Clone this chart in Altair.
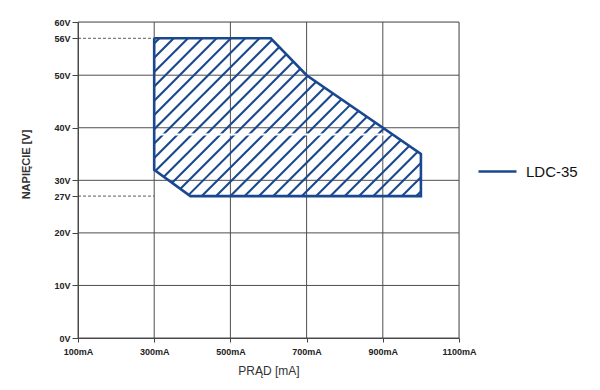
import altair as alt
import pandas as pd

# ---- data ----
series_name = "LDC-35"
poly_ma = [300, 606, 700, 1000, 1000, 395, 300, 300]
poly_v = [56, 56, 50, 35, 27, 27, 32, 56]
x_ticks = [100, 300, 500, 700, 900, 1100]
y_ticks = [0, 10, 20, 27, 30, 40, 50, 56, 60]
y_grid = [0, 10, 20, 30, 40, 50, 60]
ref_levels = [27, 56]
break_level = 38.7
break_end = 920

BLUE = "#1a4890"
GRID = "#4f4f4f"

W, H = 381, 316
X0, X1 = 100, 1100
# piecewise y scale as drawn in the reference (56V label sits above its linear place)
y_dom = [0, 50, 56, 60]
y_rng = [316, 53.2, 16.3, 0]

sx = W / (X1 - X0)

def interp(v, xs_, ys_):
    for i in range(len(xs_) - 1):
        a, b = xs_[i], xs_[i + 1]
        if (a <= v <= b) or (b <= v <= a) or i == len(xs_) - 2:
            return ys_[i] + (v - a) * (ys_[i + 1] - ys_[i]) / (b - a)
    return ys_[-1]

up_rng = [H - r for r in y_rng]  # pixel height above the bottom

def v2p(v):
    return interp(v, y_dom, up_rng)

def p2v(p):
    return interp(p, up_rng, y_dom)

# ---- hatch fill (45° lines on screen, clipped to the polygon, even-odd) ----
pts = [((m - X0) * sx, v2p(v)) for m, v in zip(poly_ma[:-1], poly_v[:-1])]
n = len(pts)

step = 14.3
phase = 204.0
rows = []
k = phase - step * 40
while k < phase + step * 40:
    xs_hit = []
    for i in range(n):
        a, b = pts[i], pts[(i + 1) % n]
        fa = a[1] - a[0] - k
        fb = b[1] - b[0] - k
        if (fa > 0) != (fb > 0):
            t = fa / (fa - fb)
            xs_hit.append(a[0] + t * (b[0] - a[0]))
    xs_hit.sort()
    for j in range(0, len(xs_hit) - 1, 2):
        ax, bx = xs_hit[j], xs_hit[j + 1]
        if bx - ax > 0.5:
            rows.append({"x": ax / sx + X0, "y": p2v(ax + k),
                         "x2": bx / sx + X0, "y2": p2v(bx + k)})
    k += step
hatch = pd.DataFrame(rows)

poly = pd.DataFrame({"ma": poly_ma, "v": poly_v, "o": list(range(len(poly_ma))), "s": series_name})

xs = alt.Scale(domain=[X0, X1], nice=False, zero=False)
ys = alt.Scale(domain=y_dom, range=y_rng, nice=False, zero=False)

label_kw = dict(labelFont="Liberation Sans", labelFontWeight="bold", labelFontSize=9,
                labelColor="#222", labelOverlap=False, labelBound=False, labelFlush=False)

y_axis = alt.Axis(
    values=y_ticks, labelExpr="datum.value + 'V'", title="NAPIĘCIE [V]",
    grid=False, domainColor="#444", tickColor="#444", tickSize=6, labelPadding=2,
    titleFont="Liberation Sans", titleFontSize=11, titleFontWeight="bold",
    titleColor="#333", titlePadding=22, titleY=142, **label_kw)
x_axis = alt.Axis(
    values=x_ticks, labelExpr="datum.value + 'mA'", title="PRĄD [mA]",
    grid=False, domainColor="#444", tickColor="#444", tickSize=4, labelPadding=5,
    titleFont="Liberation Sans", titleFontSize=12, titleFontWeight="normal",
    titleColor="#333", titlePadding=9, **label_kw)

grid_h = alt.Chart(pd.DataFrame({"v": y_grid})).mark_rule(color=GRID, strokeWidth=1).encode(
    y=alt.Y("v:Q", scale=ys, axis=y_axis))
grid_v = alt.Chart(pd.DataFrame({"m": x_ticks})).mark_rule(color=GRID, strokeWidth=1).encode(
    x=alt.X("m:Q", scale=xs, axis=x_axis))

refs = alt.Chart(pd.DataFrame({"v": ref_levels, "a": X0, "b": poly_ma[0]})).mark_rule(
    color="#333", strokeWidth=0.8, strokeDash=[3, 2]).encode(
    x=alt.X("a:Q", scale=xs, axis=x_axis), x2="b:Q", y=alt.Y("v:Q", scale=ys, axis=y_axis))

hatch_layer = alt.Chart(hatch).mark_rule(color=BLUE, strokeWidth=2.1).encode(
    x=alt.X("x:Q", scale=xs, axis=x_axis), x2="x2:Q",
    y=alt.Y("y:Q", scale=ys, axis=y_axis), y2="y2:Q")

brk = alt.Chart(pd.DataFrame({"v": [break_level], "a": [poly_ma[0] + 8], "b": [break_end]})).mark_rule(
    color="white", strokeWidth=2).encode(
    x=alt.X("a:Q", scale=xs, axis=x_axis), x2="b:Q", y=alt.Y("v:Q", scale=ys, axis=y_axis))

outline = alt.Chart(poly).mark_line(strokeWidth=2.6, strokeJoin="miter").encode(
    x=alt.X("ma:Q", scale=xs, axis=x_axis), y=alt.Y("v:Q", scale=ys, axis=y_axis), order="o:Q",
    color=alt.Color("s:N", scale=alt.Scale(domain=[series_name], range=[BLUE]),
                    legend=alt.Legend(title=None, orient="none", legendX=399, legendY=129,
                                      symbolType="stroke", symbolSize=1444, symbolStrokeWidth=2.6,
                                      labelFont="Liberation Sans", labelFontSize=15,
                                      labelColor="#111", labelOffset=8)))

chart = alt.layer(grid_h, grid_v, refs, hatch_layer, brk, outline).properties(
    width=W, height=H,
    autosize=alt.AutoSizeParams(type="none"),
    padding={"left": 70, "top": 14, "right": 133, "bottom": 44},
).configure_view(stroke=None).configure_axis(labelOverlap=False).configure(background="white")

chart.save("out.html", embed_options={"renderer": "svg", "actions": False})
